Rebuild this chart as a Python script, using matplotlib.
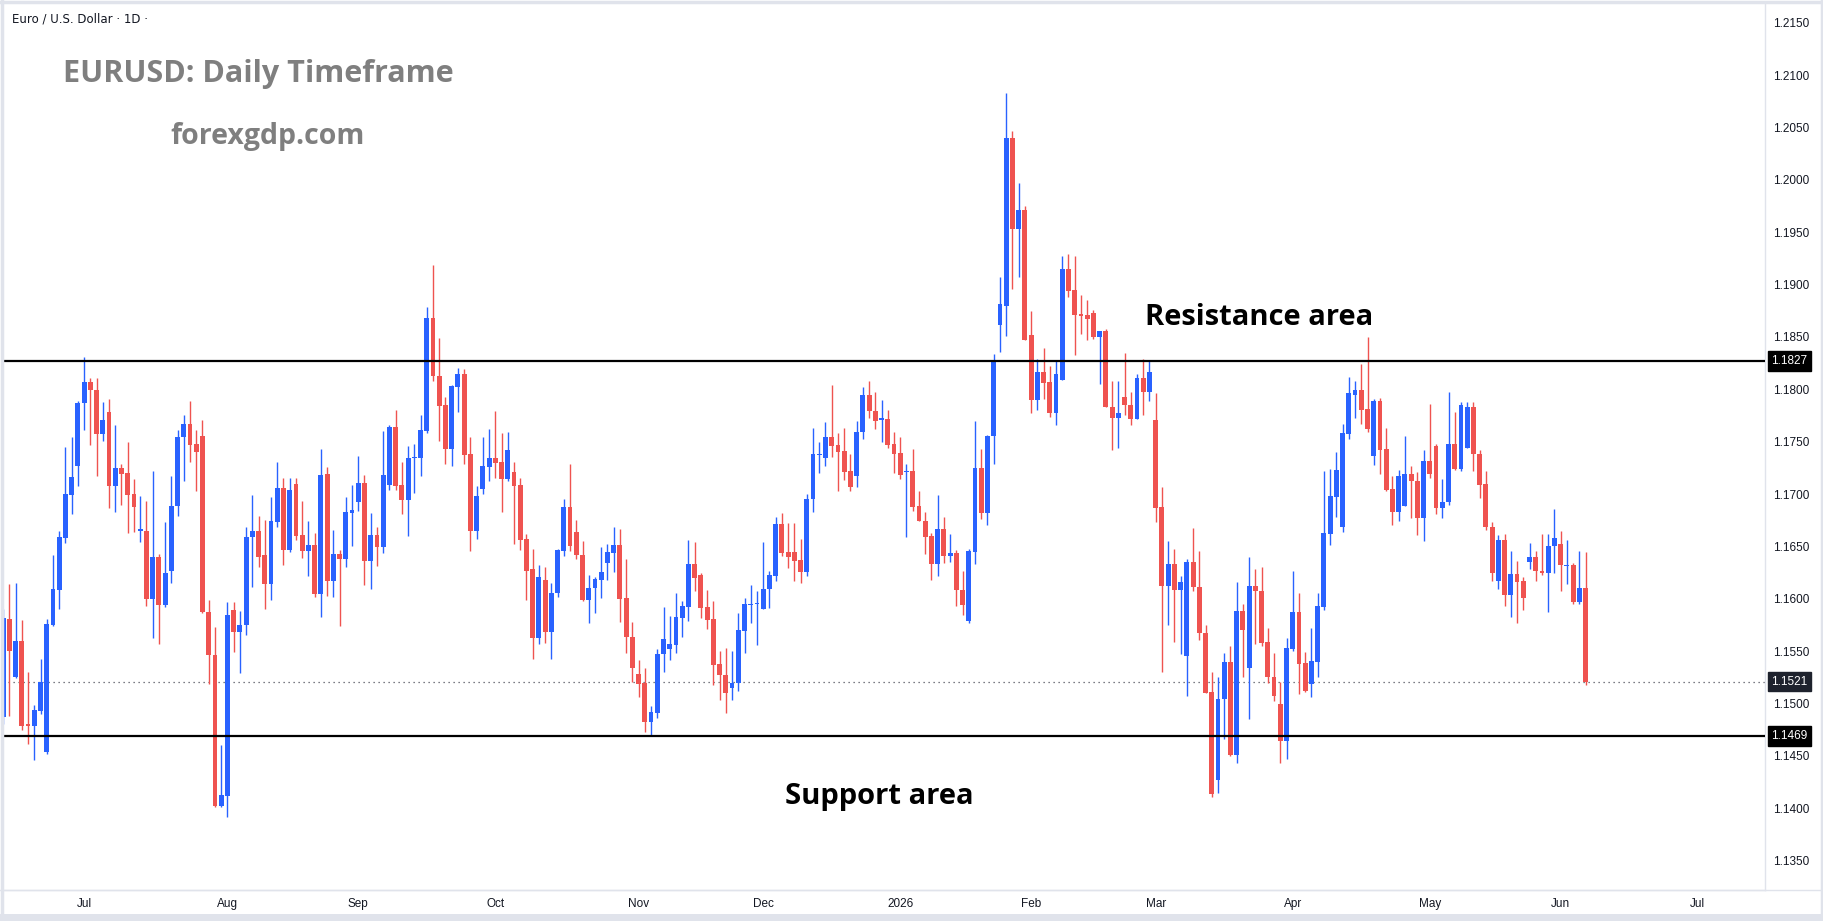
import matplotlib
matplotlib.use("Agg")
import matplotlib.pyplot as plt
from matplotlib.lines import Line2D
import numpy as np
import pandas as pd

# EURUSD daily candles (first candle is cut by the left edge)
opens = [1.1487, 1.1581, 1.1525, 1.1560, 1.1480, 1.1479, 1.1493, 1.1454, 1.1575, 1.1608,
         1.1658, 1.1699, 1.1727, 1.1787, 1.1807, 1.1799, 1.1757, 1.1778, 1.1708, 1.1725,
         1.1720, 1.1700, 1.1665, 1.1665, 1.1600, 1.1640, 1.1594, 1.1627, 1.1689, 1.1754,
         1.1767, 1.1748, 1.1755, 1.1587, 1.1546, 1.1402, 1.1412, 1.1589, 1.1568, 1.1575,
         1.1659, 1.1665, 1.1642, 1.1614, 1.1673, 1.1706, 1.1647, 1.1710, 1.1661, 1.1646,
         1.1651, 1.1605, 1.1719, 1.1617, 1.1643, 1.1638, 1.1682, 1.1692, 1.1711, 1.1636,
         1.1661, 1.1649, 1.1709, 1.1764, 1.1709, 1.1694, 1.1734, 1.1734, 1.1760, 1.1868,
         1.1813, 1.1785, 1.1743, 1.1802, 1.1815, 1.1738, 1.1665, 1.1705, 1.1726, 1.1734,
         1.1731, 1.1714, 1.1721, 1.1709, 1.1657, 1.1628, 1.1563, 1.1618, 1.1568, 1.1606,
         1.1646, 1.1688, 1.1664, 1.1642, 1.1599, 1.1610, 1.1618, 1.1634, 1.1644, 1.1651,
         1.1601, 1.1564, 1.1528, 1.1520, 1.1482, 1.1491, 1.1547, 1.1552, 1.1556, 1.1582,
         1.1592, 1.1633, 1.1623, 1.1592, 1.1581, 1.1538, 1.1527, 1.1515, 1.1520, 1.1569,
         1.1594, 1.1595, 1.1590, 1.1609, 1.1622, 1.1671, 1.1645, 1.1645, 1.1637, 1.1626,
         1.1695, 1.1737, 1.1734, 1.1754, 1.1747, 1.1741, 1.1722, 1.1717, 1.1759, 1.1795,
         1.1779, 1.1771, 1.1772, 1.1748, 1.1739, 1.1721, 1.1722, 1.1689, 1.1674, 1.1660,
         1.1633, 1.1667, 1.1641, 1.1644, 1.1608, 1.1579, 1.1645, 1.1725, 1.1682, 1.1755,
         1.1861, 1.1880, 1.2040, 1.1953, 1.1971, 1.1852, 1.1790, 1.1817, 1.1807, 1.1777,
         1.1809, 1.1915, 1.1895, 1.1872, 1.1871, 1.1873, 1.1850, 1.1856, 1.1783, 1.1773,
         1.1793, 1.1785, 1.1772, 1.1811, 1.1797, 1.1771, 1.1688, 1.1612, 1.1633, 1.1608,
         1.1545, 1.1635, 1.1611, 1.1567, 1.1511, 1.1427, 1.1504, 1.1540, 1.1451, 1.1588,
         1.1534, 1.1612, 1.1607, 1.1559, 1.1525, 1.1500, 1.1464, 1.1552, 1.1587, 1.1539,
         1.1519, 1.1540, 1.1592, 1.1662, 1.1697, 1.1669, 1.1757, 1.1795, 1.1799, 1.1781,
         1.1736, 1.1789, 1.1743, 1.1705, 1.1683, 1.1689, 1.1719, 1.1712, 1.1677, 1.1732,
         1.1746, 1.1687, 1.1692, 1.1748, 1.1724, 1.1744, 1.1783, 1.1738, 1.1710, 1.1669,
         1.1617, 1.1656, 1.1604, 1.1624, 1.1617, 1.1635, 1.1640, 1.1627, 1.1625, 1.1650,
         1.1652, 1.1631, 1.1632, 1.1597, 1.1610]
highs = [1.1590, 1.1614, 1.1615, 1.1580, 1.1530, 1.1499, 1.1543, 1.1581, 1.1642, 1.1665,
         1.1745, 1.1754, 1.1789, 1.1831, 1.1811, 1.1811, 1.1788, 1.1791, 1.1766, 1.1729,
         1.1750, 1.1714, 1.1698, 1.1693, 1.1722, 1.1643, 1.1673, 1.1717, 1.1761, 1.1775,
         1.1789, 1.1761, 1.1771, 1.1599, 1.1573, 1.1460, 1.1597, 1.1597, 1.1588, 1.1669,
         1.1699, 1.1679, 1.1675, 1.1697, 1.1731, 1.1715, 1.1715, 1.1715, 1.1693, 1.1674,
         1.1663, 1.1743, 1.1726, 1.1666, 1.1647, 1.1697, 1.1709, 1.1736, 1.1718, 1.1682,
         1.1669, 1.1760, 1.1766, 1.1780, 1.1731, 1.1746, 1.1748, 1.1775, 1.1879, 1.1919,
         1.1849, 1.1793, 1.1804, 1.1820, 1.1819, 1.1754, 1.1708, 1.1754, 1.1762, 1.1779,
         1.1758, 1.1759, 1.1731, 1.1715, 1.1662, 1.1648, 1.1632, 1.1630, 1.1615, 1.1648,
         1.1695, 1.1729, 1.1675, 1.1655, 1.1623, 1.1621, 1.1649, 1.1652, 1.1669, 1.1667,
         1.1638, 1.1578, 1.1542, 1.1534, 1.1498, 1.1552, 1.1592, 1.1584, 1.1606, 1.1598,
         1.1656, 1.1654, 1.1625, 1.1608, 1.1598, 1.1550, 1.1553, 1.1550, 1.1586, 1.1601,
         1.1613, 1.1607, 1.1654, 1.1627, 1.1678, 1.1682, 1.1672, 1.1672, 1.1657, 1.1700,
         1.1763, 1.1750, 1.1769, 1.1804, 1.1758, 1.1763, 1.1738, 1.1770, 1.1802, 1.1808,
         1.1797, 1.1790, 1.1780, 1.1759, 1.1754, 1.1729, 1.1743, 1.1703, 1.1683, 1.1663,
         1.1699, 1.1678, 1.1662, 1.1647, 1.1627, 1.1648, 1.1770, 1.1743, 1.1756, 1.1834,
         1.1907, 1.2083, 1.2047, 1.1997, 1.1975, 1.1875, 1.1829, 1.1839, 1.1822, 1.1827,
         1.1927, 1.1929, 1.1927, 1.1890, 1.1885, 1.1876, 1.1856, 1.1858, 1.1808, 1.1808,
         1.1835, 1.1797, 1.1815, 1.1829, 1.1827, 1.1796, 1.1707, 1.1655, 1.1648, 1.1622,
         1.1638, 1.1668, 1.1646, 1.1575, 1.1530, 1.1525, 1.1548, 1.1555, 1.1616, 1.1595,
         1.1640, 1.1628, 1.1630, 1.1572, 1.1548, 1.1521, 1.1563, 1.1627, 1.1606, 1.1549,
         1.1572, 1.1606, 1.1722, 1.1724, 1.1740, 1.1767, 1.1812, 1.1808, 1.1824, 1.1850,
         1.1791, 1.1792, 1.1763, 1.1717, 1.1723, 1.1755, 1.1727, 1.1721, 1.1742, 1.1786,
         1.1748, 1.1714, 1.1797, 1.1778, 1.1788, 1.1788, 1.1788, 1.1742, 1.1722, 1.1673,
         1.1661, 1.1662, 1.1646, 1.1636, 1.1621, 1.1653, 1.1646, 1.1662, 1.1662, 1.1686,
         1.1665, 1.1656, 1.1634, 1.1646, 1.1645]
lows = [1.1480, 1.1488, 1.1524, 1.1475, 1.1461, 1.1446, 1.1490, 1.1452, 1.1574, 1.1590,
        1.1653, 1.1681, 1.1708, 1.1761, 1.1747, 1.1717, 1.1751, 1.1687, 1.1683, 1.1690,
        1.1663, 1.1664, 1.1654, 1.1593, 1.1563, 1.1557, 1.1592, 1.1615, 1.1679, 1.1712,
        1.1731, 1.1703, 1.1586, 1.1519, 1.1401, 1.1401, 1.1392, 1.1549, 1.1529, 1.1565,
        1.1611, 1.1630, 1.1590, 1.1599, 1.1669, 1.1632, 1.1645, 1.1656, 1.1639, 1.1622,
        1.1602, 1.1583, 1.1603, 1.1602, 1.1574, 1.1630, 1.1650, 1.1684, 1.1613, 1.1609,
        1.1631, 1.1644, 1.1704, 1.1704, 1.1681, 1.1660, 1.1701, 1.1717, 1.1758, 1.1808,
        1.1751, 1.1729, 1.1727, 1.1778, 1.1729, 1.1646, 1.1657, 1.1700, 1.1712, 1.1715,
        1.1683, 1.1712, 1.1652, 1.1647, 1.1599, 1.1543, 1.1557, 1.1558, 1.1543, 1.1602,
        1.1641, 1.1646, 1.1638, 1.1598, 1.1577, 1.1586, 1.1601, 1.1618, 1.1626, 1.1578,
        1.1548, 1.1521, 1.1506, 1.1473, 1.1469, 1.1486, 1.1530, 1.1542, 1.1548, 1.1564,
        1.1579, 1.1607, 1.1582, 1.1571, 1.1518, 1.1503, 1.1491, 1.1503, 1.1512, 1.1548,
        1.1577, 1.1556, 1.1590, 1.1591, 1.1617, 1.1641, 1.1629, 1.1617, 1.1615, 1.1622,
        1.1683, 1.1720, 1.1727, 1.1735, 1.1703, 1.1713, 1.1703, 1.1707, 1.1753, 1.1773,
        1.1762, 1.1750, 1.1744, 1.1720, 1.1714, 1.1659, 1.1684, 1.1674, 1.1643, 1.1618,
        1.1622, 1.1634, 1.1635, 1.1593, 1.1585, 1.1577, 1.1633, 1.1676, 1.1670, 1.1729,
        1.1836, 1.1851, 1.1896, 1.1907, 1.1847, 1.1777, 1.1780, 1.1791, 1.1774, 1.1766,
        1.1809, 1.1888, 1.1833, 1.1853, 1.1847, 1.1848, 1.1805, 1.1783, 1.1742, 1.1744,
        1.1775, 1.1766, 1.1772, 1.1775, 1.1789, 1.1673, 1.1530, 1.1575, 1.1559, 1.1547,
        1.1507, 1.1607, 1.1561, 1.1510, 1.1411, 1.1415, 1.1466, 1.1450, 1.1443, 1.1525,
        1.1485, 1.1557, 1.1555, 1.1520, 1.1502, 1.1443, 1.1447, 1.1550, 1.1509, 1.1511,
        1.1506, 1.1525, 1.1589, 1.1651, 1.1678, 1.1664, 1.1753, 1.1773, 1.1767, 1.1759,
        1.1728, 1.1719, 1.1703, 1.1670, 1.1674, 1.1689, 1.1677, 1.1661, 1.1655, 1.1715,
        1.1681, 1.1677, 1.1690, 1.1723, 1.1722, 1.1744, 1.1722, 1.1696, 1.1666, 1.1617,
        1.1609, 1.1593, 1.1583, 1.1577, 1.1589, 1.1628, 1.1617, 1.1623, 1.1587, 1.1625,
        1.1607, 1.1614, 1.1595, 1.1595, 1.1518]
closes = [1.1582, 1.1550, 1.1560, 1.1479, 1.1479, 1.1494, 1.1521, 1.1576, 1.1609, 1.1659,
          1.1700, 1.1716, 1.1787, 1.1807, 1.1799, 1.1757, 1.1771, 1.1708, 1.1725, 1.1719,
          1.1699, 1.1688, 1.1666, 1.1600, 1.1640, 1.1594, 1.1625, 1.1689, 1.1754, 1.1767,
          1.1747, 1.1740, 1.1587, 1.1546, 1.1402, 1.1413, 1.1585, 1.1568, 1.1575, 1.1659,
          1.1665, 1.1640, 1.1614, 1.1674, 1.1706, 1.1647, 1.1704, 1.1660, 1.1646, 1.1651,
          1.1605, 1.1718, 1.1617, 1.1643, 1.1638, 1.1683, 1.1685, 1.1711, 1.1636, 1.1661,
          1.1649, 1.1718, 1.1764, 1.1708, 1.1694, 1.1734, 1.1735, 1.1761, 1.1868, 1.1813,
          1.1784, 1.1743, 1.1803, 1.1815, 1.1737, 1.1665, 1.1698, 1.1727, 1.1734, 1.1730,
          1.1714, 1.1742, 1.1708, 1.1656, 1.1627, 1.1563, 1.1621, 1.1568, 1.1606, 1.1647,
          1.1688, 1.1650, 1.1642, 1.1599, 1.1610, 1.1619, 1.1626, 1.1645, 1.1651, 1.1600,
          1.1564, 1.1534, 1.1519, 1.1482, 1.1492, 1.1547, 1.1562, 1.1557, 1.1583, 1.1593,
          1.1633, 1.1620, 1.1591, 1.1580, 1.1537, 1.1527, 1.1510, 1.1520, 1.1570, 1.1595,
          1.1595, 1.1596, 1.1609, 1.1623, 1.1671, 1.1644, 1.1640, 1.1636, 1.1626, 1.1695,
          1.1738, 1.1738, 1.1754, 1.1746, 1.1740, 1.1721, 1.1707, 1.1759, 1.1795, 1.1779,
          1.1770, 1.1772, 1.1747, 1.1738, 1.1718, 1.1722, 1.1688, 1.1674, 1.1659, 1.1633,
          1.1667, 1.1641, 1.1644, 1.1608, 1.1594, 1.1646, 1.1725, 1.1682, 1.1755, 1.1827,
          1.1881, 1.2040, 1.1953, 1.1971, 1.1847, 1.1790, 1.1817, 1.1806, 1.1777, 1.1815,
          1.1915, 1.1894, 1.1871, 1.1870, 1.1867, 1.1850, 1.1856, 1.1783, 1.1773, 1.1777,
          1.1785, 1.1772, 1.1811, 1.1797, 1.1817, 1.1687, 1.1612, 1.1633, 1.1608, 1.1616,
          1.1635, 1.1611, 1.1567, 1.1510, 1.1414, 1.1504, 1.1540, 1.1451, 1.1588, 1.1570,
          1.1612, 1.1607, 1.1558, 1.1525, 1.1507, 1.1464, 1.1553, 1.1587, 1.1538, 1.1512,
          1.1541, 1.1593, 1.1663, 1.1698, 1.1723, 1.1758, 1.1796, 1.1799, 1.1780, 1.1762,
          1.1789, 1.1742, 1.1704, 1.1683, 1.1717, 1.1719, 1.1712, 1.1677, 1.1732, 1.1719,
          1.1687, 1.1692, 1.1748, 1.1724, 1.1785, 1.1783, 1.1738, 1.1709, 1.1669, 1.1625,
          1.1656, 1.1604, 1.1624, 1.1616, 1.1601, 1.1640, 1.1627, 1.1625, 1.1650, 1.1658,
          1.1632, 1.1632, 1.1597, 1.1610, 1.1521]

first_day = "2025-06-12"
last_axis_day = "2026-07-31"
holidays = ["2025-12-25", "2026-01-01"]
resistance = 1.1827
support = 1.1469
last_price = 1.1521
price_ticks = np.arange(1.1350, 1.21501, 0.005)

UP = "#2962ff"
DOWN = "#ef5350"
GRID_LINE = "#e0e3eb"
TEXT = "#131722"

o = np.array(opens)
h = np.array(highs)
l = np.array(lows)
c = np.array(closes)
x = np.arange(len(o))
up = c > o
colors = np.where(up, UP, DOWN)

# trading calendar (weekdays, no Christmas / New Year) for the time axis
calendar = pd.bdate_range(first_day, last_axis_day, freq="C", holidays=holidays)

W, H = 1823, 921
fig = plt.figure(figsize=(W / 100, H / 100), dpi=100)
fig.patch.set_facecolor("white")
ax = fig.add_axes([3 / W, 31 / H, 1762 / W, 887 / H])

# candles
ax.vlines(x, np.minimum(l, np.minimum(o, c)), np.maximum(h, np.maximum(o, c)),
          colors=colors, linewidth=1.0, zorder=3)
body_h = np.maximum(np.abs(c - o), 0.00012)
ax.bar(x, body_h, bottom=np.minimum(o, c), width=0.78, color=colors,
       linewidth=0, zorder=4)

# support / resistance and last price
ax.axhline(resistance, color="black", linewidth=1.6, zorder=5)
ax.axhline(support, color="black", linewidth=1.6, zorder=5)
ax.axhline(last_price, color="#50535e", linewidth=0.9, linestyle=(0, (1, 3)), zorder=2)

x_min, x_max = -0.02, 282.8

# month ticks
tick_pos, tick_lab = [], []
prev = None
for i, d in enumerate(calendar):
    key = (d.year, d.month)
    if key != prev:
        if prev is not None and i <= x_max:
            tick_pos.append(i)
            tick_lab.append(str(d.year) if d.month == 1 else d.strftime("%b"))
        prev = key
ax.set_xticks(tick_pos)
ax.set_xticklabels(tick_lab)
ax.set_xlim(x_min, x_max)

ax.yaxis.tick_right()
ax.set_yticks(price_ticks)
ax.set_yticklabels([f"{v:.4f}" for v in price_ticks])
ax.set_ylim(1.13220, 1.21688)
ax.tick_params(axis="both", length=0, labelsize=8.5, labelcolor=TEXT)
ax.tick_params(axis="y", pad=6)
ax.tick_params(axis="x", pad=6)
for lab in ax.get_xticklabels() + ax.get_yticklabels():
    lab.set_family("Liberation Sans")

for side in ["top", "left"]:
    ax.spines[side].set_visible(False)
for side in ["right", "bottom"]:
    ax.spines[side].set_color(GRID_LINE)
    ax.spines[side].set_linewidth(1.0)

# price labels on the scale
for price, bg in [(resistance, "black"), (support, "black"), (last_price, "#1e222d")]:
    ax.text(1.0035, price, f"{price:.4f}", transform=ax.get_yaxis_transform(),
            ha="left", va="center", fontsize=8.5, color="white", family="Liberation Sans",
            zorder=10, clip_on=False,
            bbox=dict(boxstyle="square,pad=0.3", fc=bg, ec=bg))

# outer frame
fig.add_artist(Line2D([0, 1], [31 / H, 31 / H], color=GRID_LINE, lw=1))
fig.add_artist(Line2D([0, 1], [1 - 2 / H, 1 - 2 / H], color=GRID_LINE, lw=2.5))
fig.add_artist(Line2D([0, 1], [4 / H, 4 / H], color=GRID_LINE, lw=5))
fig.add_artist(Line2D([1.5 / W, 1.5 / W], [0, 1], color=GRID_LINE, lw=2.5))
fig.add_artist(Line2D([1 - 1.5 / W, 1 - 1.5 / W], [0, 1], color=GRID_LINE, lw=2.5))

# header and annotations
fig.text(12 / W, 1 - 19 / H, "Euro / U.S. Dollar · 1D ·", fontsize=8.5, color=TEXT,
         family="DejaVu Sans", va="center", ha="left")
fig.text(63 / W, 1 - 74 / H, "EURUSD: Daily Timeframe", fontsize=22, fontweight="bold",
         color="#7f7f7f", family="Open Sans", va="center", ha="left")
fig.text(170 / W, 1 - 136 / H, "forexgdp.com", fontsize=20.5, fontweight="bold",
         color="#7f7f7f", family="Open Sans", va="center", ha="left")
ax.text(183.3, 1.1869, "Resistance area", fontsize=21, fontweight="bold",
        color="black", family="Open Sans", va="center", ha="left", zorder=6)
ax.text(125.5, 1.1411, "Support area", fontsize=21, fontweight="bold",
        color="black", family="Open Sans", va="center", ha="left", zorder=6)

fig.savefig("out.png", dpi=100, facecolor="white")
